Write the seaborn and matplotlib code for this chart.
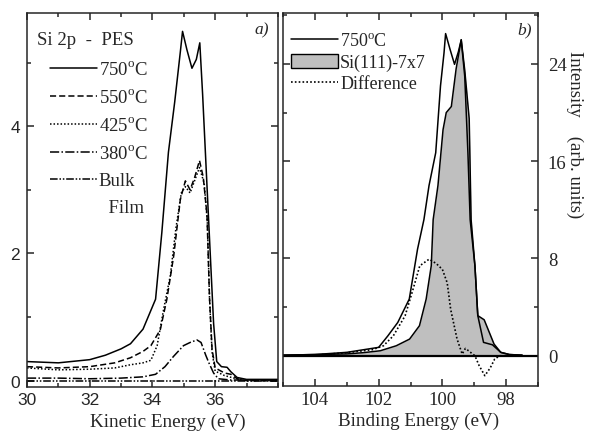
import numpy as np
import pandas as pd
import matplotlib
matplotlib.use("Agg")
import matplotlib.pyplot as plt
import seaborn as sns
from matplotlib.lines import Line2D
from matplotlib.patches import Patch
from matplotlib.ticker import MultipleLocator

# --- data ---
# panel a) Si 2p PES vs kinetic energy
ke_750 = [30, 31, 32, 32.5, 33, 33.3, 33.7, 34.1, 34.3, 34.51, 34.71, 34.89, 34.96, 35.1, 35.26, 35.4,
          35.51, 35.6, 35.79, 35.95, 36.05, 36.2, 36.38, 36.5, 36.7, 37.0, 37.5, 38]
i_750 = [0.30, 0.28, 0.33, 0.40, 0.50, 0.58, 0.81, 1.28, 2.33, 3.59, 4.38, 5.17, 5.49, 5.2, 4.91, 5.05,
         5.31, 4.5, 2.54, 0.9, 0.30, 0.22, 0.21, 0.14, 0.05, 0.02, 0.02, 0.02]

ke_550 = [30, 31, 32, 32.8, 33.3, 33.7, 33.95, 34.25, 34.46, 34.68, 34.89, 35.05, 35.2, 35.35, 35.5,
          35.62, 35.74, 35.82, 35.9, 36.0, 36.3, 36.5, 36.7, 37, 38]
i_550 = [0.22, 0.20, 0.22, 0.28, 0.36, 0.46, 0.55, 0.80, 1.28, 1.97, 2.85, 3.14, 3.0, 3.2, 3.46,
         3.2, 2.6, 1.3, 0.5, 0.2, 0.12, 0.10, 0.03, 0.0, 0.0]

ke_425 = [30, 31, 32, 32.8, 33.3, 33.7, 33.95, 34.15, 34.36, 34.57, 34.75, 34.92, 35.05, 35.2, 35.35,
          35.5, 35.65, 35.75, 35.82, 35.9, 36.0, 36.3, 36.6, 37, 38]
i_425 = [0.20, 0.17, 0.18, 0.20, 0.25, 0.28, 0.32, 0.55, 1.13, 1.65, 2.4, 2.95, 3.05, 2.95, 3.15,
         3.35, 3.1, 2.5, 1.3, 0.45, 0.15, 0.08, 0.04, 0.0, 0.0]

ke_380 = [30, 31, 32, 33, 33.7, 34.1, 34.4, 34.67, 34.99, 35.2, 35.42, 35.55, 35.7, 35.8, 35.95,
          36.1, 36.5, 38]
i_380 = [0.04, 0.04, 0.03, 0.04, 0.06, 0.10, 0.22, 0.38, 0.55, 0.60, 0.64, 0.60, 0.40, 0.28, 0.12,
         0.03, 0.01, 0.01]

ke_bulk = [30, 32, 34, 36, 38]
i_bulk = [0.0, 0.0, 0.0, 0.0, 0.0]

# panel b) vs binding energy
be_750 = [105, 104, 103, 102, 101.71, 101.4, 101.04, 100.78, 100.58, 100.42, 100.21, 100.06, 99.95,
          99.9, 99.76, 99.62, 99.5, 99.41, 99.3, 99.2, 99.13, 98.98, 98.89, 98.71, 98.43, 98.17, 97.9, 97.5]
i_750b = [0.05, 0.1, 0.28, 0.69, 1.64, 2.74, 4.66, 8.77, 11.2, 14.0, 16.7, 22.2, 24.9,
          26.5, 25.2, 23.97, 25.0, 25.97, 23.0, 16.7, 11.2, 7.4, 3.3, 1.1, 0.9, 0.28, 0.1, 0.05]

be_7x7 = [105, 104, 103, 102.5, 101.95, 101.45, 101.03, 100.72, 100.51, 100.35, 100.29, 100.14, 99.98,
          99.88, 99.72, 99.57, 99.41, 99.3, 99.16, 99.1, 98.98, 98.89, 98.69, 98.38, 98.17, 97.9, 97.5]
i_7x7 = [0.05, 0.1, 0.15, 0.25, 0.41, 0.82, 1.37, 2.47, 4.66, 7.4, 11.2, 14.0, 18.6,
         20.0, 20.5, 23.6, 26.0, 23.5, 19.5, 11.2, 7.4, 3.3, 2.96, 0.96, 0.28, 0.1, 0.05]

be_diff = [104.5, 104, 103, 102.2, 101.85, 101.54, 101.17, 100.92, 100.71, 100.42, 100.2, 100.0, 99.85,
           99.74, 99.54, 99.38, 99.28, 99.18, 99.08, 98.98, 98.85, 98.67, 98.5, 98.36, 98.2, 97.9]
i_diff = [0.0, 0.05, 0.25, 0.5, 0.82, 1.64, 3.29, 5.48, 7.4, 7.94, 7.6, 7.1, 6.0,
          3.8, 1.37, 0.14, 0.6, 0.41, 0.2, 0.0, -0.8, -1.64, -1.0, -0.27, 0.0, 0.0]

deg = r"$^{\rm o}$C"
labels_a = ["750" + deg, "550" + deg, "425" + deg, "380" + deg, "Bulk", "  Film"]
labels_b = ["750" + deg, "Si(111)-7x7", "Difference"]

# --- style ---
sns.set_style("ticks")
plt.rcParams['font.family'] = ['Liberation Serif', 'DejaVu Serif']
plt.rcParams['mathtext.fontset'] = 'custom'
plt.rcParams['mathtext.rm'] = 'Liberation Serif'
plt.rcParams['axes.linewidth'] = 1.1
SANS = 'Liberation Sans'

fig = plt.figure(figsize=(5.89, 4.35), dpi=100)
ax1 = fig.add_axes([0.0458, 0.108, 0.426, 0.860])
ax2 = fig.add_axes([0.4805, 0.110, 0.433, 0.858])

# --- panel a ---
styles_a = ['-', (0, (4, 2)), (0, (1, 1.3)), (0, (6, 1.5, 1, 1.5)), (0, (5, 1.2, 1, 1.2, 1, 1.2))]
series_a = [(ke_750, i_750), (ke_550, i_550), (ke_425, i_425), (ke_380, i_380), (ke_bulk, i_bulk)]
for (x, y), ls in zip(series_a, styles_a):
    sns.lineplot(x=x, y=y, ax=ax1, color='k', lw=1.1, linestyle=ls, sort=False, estimator=None)

ax1.set_xlim(30, 38)
ax1.set_ylim(-0.1, 5.78)
ax1.set_xticks([30, 32, 34, 36])
ax1.xaxis.set_minor_locator(MultipleLocator(1))
ax1.yaxis.set_major_locator(MultipleLocator(2))
ax1.yaxis.set_minor_locator(MultipleLocator(1))
ax1.tick_params(which='both', direction='in', top=True, right=True, width=1.1)
ax1.tick_params(which='major', length=5)
ax1.tick_params(which='minor', length=3)
for lab in ax1.get_xticklabels() + ax1.get_yticklabels():
    lab.set_fontfamily(SANS)
    lab.set_fontsize(12.5)
ax1.tick_params(axis='y', pad=5)
ax1.set_xlabel("Kinetic Energy (eV)", fontsize=13.8)
ax1.xaxis.set_label_coords(0.56, -0.068)
ax1.set_ylabel("")

ax1.text(0.04, 0.93, "Si 2p  -  PES", transform=ax1.transAxes, ha='left', va='center', fontsize=13.5)
handles_a = [Line2D([], [], color='k', lw=1.1, linestyle=ls) for ls in styles_a]
handles_a.append(Line2D([], [], color='none'))
ax1.legend(handles_a, labels_a, loc='upper left', frameon=False, fontsize=13.5,
           handlelength=2.5, handletextpad=0.1, labelspacing=0.53, borderpad=0,
           borderaxespad=0, bbox_to_anchor=(0.092, 0.873))
ax1.text(0.965, 0.955, "a)", transform=ax1.transAxes, ha='right', va='center',
         fontsize=12.5, style='italic')

# --- panel b ---
ax2.fill_between(be_7x7, 0, i_7x7, color='#bfbfbf', lw=0)
sns.lineplot(x=be_7x7, y=i_7x7, ax=ax2, color='k', lw=1.1, sort=False, estimator=None)
sns.lineplot(x=be_750, y=i_750b, ax=ax2, color='k', lw=1.1, sort=False, estimator=None)
sns.lineplot(x=be_diff, y=i_diff, ax=ax2, color='k', lw=1.2, linestyle=(0, (1, 1.3)),
             sort=False, estimator=None)
ax2.axhline(0, color='k', lw=1.6)

ax2.set_xlim(105, 97)
ax2.set_ylim(-2.5, 28.2)
ax2.xaxis.set_major_locator(MultipleLocator(2))
ax2.xaxis.set_minor_locator(MultipleLocator(1))
ax2.yaxis.set_major_locator(MultipleLocator(8))
ax2.yaxis.set_minor_locator(MultipleLocator(4))
ax2.tick_params(which='both', direction='in', top=True, left=True, right=True,
                labelleft=False, labelright=True, width=1.1)
ax2.tick_params(which='major', length=5)
ax2.tick_params(which='minor', length=3)
ax2.tick_params(axis='y', pad=7)
for lab in ax2.get_xticklabels() + ax2.get_yticklabels():
    lab.set_fontsize(13.5)
ax2.set_xlabel("Binding Energy (eV)", fontsize=13.8)
ax2.xaxis.set_label_coords(0.53, -0.068)
ax2.set_ylabel("")

handles_b = [Line2D([], [], color='k', lw=1.1),
             Patch(facecolor='#bfbfbf', edgecolor='k', lw=1.0),
             Line2D([], [], color='k', lw=1.2, linestyle=(0, (1, 1.3)))]
ax2.legend(handles_b, labels_b, loc='upper left', frameon=False, fontsize=13,
           handlelength=2.6, handleheight=0.8, handletextpad=0.1, labelspacing=0.23,
           borderaxespad=0.2, bbox_to_anchor=(-0.01, 0.977))
ax2.text(0.975, 0.955, "b)", transform=ax2.transAxes, ha='right', va='center',
         fontsize=12.5, style='italic')

fig.text(0.976, 0.69, "Intensity    (arb. units)", rotation=270, ha='center', va='center', fontsize=13.5)

fig.savefig("out.png", dpi=100)
